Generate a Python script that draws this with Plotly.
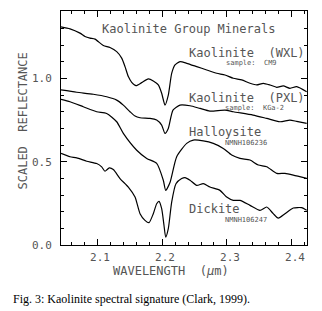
import plotly.graph_objects as go

# ---- data ----
wxl_x = [2.0446, 2.0585, 2.0738, 2.0815, 2.0892, 2.0969, 2.1097, 2.12, 2.1303, 2.1380, 2.1431, 2.1482,
         2.1534, 2.16, 2.1688, 2.1789, 2.1866, 2.1943, 2.1995, 2.2046, 2.2097, 2.2149, 2.22, 2.2277,
         2.2380, 2.2534, 2.2688, 2.2842, 2.2969, 2.3097, 2.3226, 2.3354, 2.3457, 2.3558, 2.3662,
         2.3765, 2.3866, 2.3969, 2.4072, 2.4226]
wxl_y = [1.310, 1.298, 1.272, 1.252, 1.242, 1.236, 1.198, 1.186, 1.161, 1.122, 1.071, 1.011,
         0.977, 0.957, 0.975, 0.997, 0.985, 0.961, 0.911, 0.840, 0.900, 1.030, 1.081, 1.101,
         1.091, 1.071, 1.051, 1.031, 1.021, 1.001, 0.991, 0.971, 0.961, 0.971, 0.961,
         0.947, 0.955, 0.941, 0.951, 0.920]

pxl_x = [2.0446, 2.0688, 2.0943, 2.1149, 2.1303, 2.1405, 2.1508, 2.1585, 2.1662, 2.1815, 2.1918,
         2.1995, 2.2046, 2.2097, 2.2169, 2.2277, 2.2431, 2.2585, 2.2738, 2.2969, 2.3097, 2.34,
         2.3611, 2.3815, 2.3969, 2.4072, 2.4226]
pxl_y = [0.931, 0.917, 0.905, 0.890, 0.870, 0.840, 0.800, 0.774, 0.764, 0.760, 0.750,
         0.720, 0.670, 0.700, 0.810, 0.840, 0.836, 0.820, 0.804, 0.810, 0.800, 0.780,
         0.760, 0.740, 0.750, 0.742, 0.730]

hal_x = [2.0446, 2.0585, 2.0789, 2.0995, 2.1149, 2.1303, 2.1405, 2.1611, 2.1765, 2.1918, 2.202,
         2.2057, 2.2123, 2.2226, 2.2380, 2.2482, 2.2635, 2.2789, 2.2943, 2.3072, 2.32, 2.3354,
         2.3482, 2.3611, 2.3765, 2.3892, 2.4020, 2.4226]
hal_y = [0.875, 0.860, 0.830, 0.800, 0.790, 0.740, 0.670, 0.569, 0.520, 0.490, 0.389,
         0.328, 0.375, 0.530, 0.610, 0.630, 0.625, 0.610, 0.580, 0.540, 0.520, 0.510,
         0.480, 0.470, 0.430, 0.430, 0.420, 0.400]

dic_x = [2.0446, 2.0585, 2.0688, 2.0842, 2.0995, 2.1072, 2.1123, 2.1189, 2.1251, 2.1354, 2.1482,
         2.1585, 2.1662, 2.1738, 2.18, 2.1866, 2.1918, 2.1954, 2.1995, 2.2031, 2.2057, 2.2097,
         2.2149, 2.2215, 2.2303, 2.2354, 2.2431, 2.2534, 2.2635, 2.2738, 2.2892, 2.2995, 2.3097,
         2.32, 2.3354, 2.3508, 2.3611, 2.3712, 2.3789, 2.3892, 2.4020, 2.4149, 2.4226]
dic_y = [0.550, 0.530, 0.523, 0.503, 0.489, 0.469, 0.443, 0.463, 0.453, 0.399, 0.348,
         0.288, 0.188, 0.148, 0.134, 0.188, 0.248, 0.262, 0.218, 0.117, 0.047, 0.098,
         0.258, 0.368, 0.399, 0.405, 0.389, 0.358, 0.368, 0.348, 0.328, 0.288, 0.268,
         0.268, 0.238, 0.208, 0.228, 0.188, 0.161, 0.188, 0.222, 0.224, 0.208]

x_tick_vals = [2.1, 2.2, 2.3, 2.4]
x_tick_text = ["2.1", "2.2", "2.3", "2.4"]
y_tick_vals = [0.0, 0.5, 1.0]
y_tick_text = ["0.0", "0.5", "1.0"]

names = ["Kaolinite  (WXL)", "Kaolinite  (PXL)", "Halloysite", "Dickite"]
samples = ["sample:  CM9", "sample:  KGa-2", "NMNH106236", "NMNH106247"]

mono = "DejaVu Sans Mono"
txt_col = "#555555"

W, H = 322, 311
L, R, T, B = 61, 15, 11, 66


def px_x(p):
    return (p - L) / (W - L - R)


def px_y(p):
    return (H - B - p) / (H - T - B)


fig = go.Figure()
for xs, ys in [(wxl_x, wxl_y), (pxl_x, pxl_y), (hal_x, hal_y), (dic_x, dic_y)]:
    fig.add_trace(go.Scatter(x=xs, y=ys, mode="lines",
                             line=dict(color="black", width=1.2, shape="spline", smoothing=0.6),
                             showlegend=False, hoverinfo="skip"))

name_pos = [(186.7, 53.3), (186.7, 97.7), (186.7, 132.3), (186.7, 209.3)]
samp_pos = [(224, 62.5), (223, 108), (222.7, 142.5), (222.7, 219.5)]
for (nx, ny), n in zip(name_pos, names):
    fig.add_annotation(x=px_x(nx), y=px_y(ny), xref="paper", yref="paper", text=n, showarrow=False,
                       xanchor="left", yanchor="middle",
                       font=dict(family=mono, size=12, color=txt_col))
for (sx, sy), s in zip(samp_pos, samples):
    fig.add_annotation(x=px_x(sx), y=px_y(sy), xref="paper", yref="paper", text=s, showarrow=False,
                       xanchor="left", yanchor="middle",
                       font=dict(family=mono, size=7, color=txt_col))

fig.add_annotation(x=px_x(188), y=px_y(29), xref="paper", yref="paper", text="Kaolinite Group Minerals",
                   showarrow=False, xanchor="center", yanchor="middle",
                   font=dict(family=mono, size=12, color=txt_col))

# axis titles
fig.add_annotation(x=px_x(171), y=px_y(270.7), xref="paper", yref="paper",
                   text="WAVELENGTH  (<i>\u03bc</i>m)", showarrow=False,
                   xanchor="center", yanchor="middle",
                   font=dict(family=mono, size=12, color=txt_col))
fig.add_annotation(x=px_x(22), y=px_y(121.5), xref="paper", yref="paper",
                   text="SCALED  REFLECTANCE", textangle=-90, showarrow=False,
                   xanchor="center", yanchor="middle",
                   font=dict(family=mono, size=12, color=txt_col))
# caption
fig.add_annotation(x=px_x(11), y=px_y(299), xref="paper", yref="paper",
                   text="Fig. 3: Kaolinite spectral signature (Clark, 1999).",
                   showarrow=False, xanchor="left", yanchor="middle",
                   font=dict(family="Liberation Serif", size=12, color="black"))

axis_common = dict(showgrid=False, zeroline=False, showline=True, linecolor="black", linewidth=1,
                   mirror="ticks", ticks="inside", tickcolor="black", tickwidth=1,
                   tickfont=dict(family=mono, size=11, color=txt_col))

fig.update_xaxes(range=[2.0446, 2.4231], tickvals=x_tick_vals, ticktext=x_tick_text, ticklen=6,
                 minor=dict(dtick=0.02, tick0=2.0, ticks="inside", ticklen=3, tickcolor="black"),
                 ticklabelshift=3, ticklabelstandoff=2, **axis_common)
fig.update_yaxes(range=[0, 1.405], tickvals=y_tick_vals, ticktext=y_tick_text, ticklen=6,
                 minor=dict(dtick=0.1, tick0=0.0, ticks="inside", ticklen=3, tickcolor="black"),
                 ticklabelstandoff=6, **axis_common)

fig.update_layout(width=W, height=H, margin=dict(l=L, r=R, t=T, b=B),
                  plot_bgcolor="white", paper_bgcolor="white", showlegend=False)

fig.write_html("out.html", config={"displayModeBar": False},
               post_script="document.body.style.margin='0';")
